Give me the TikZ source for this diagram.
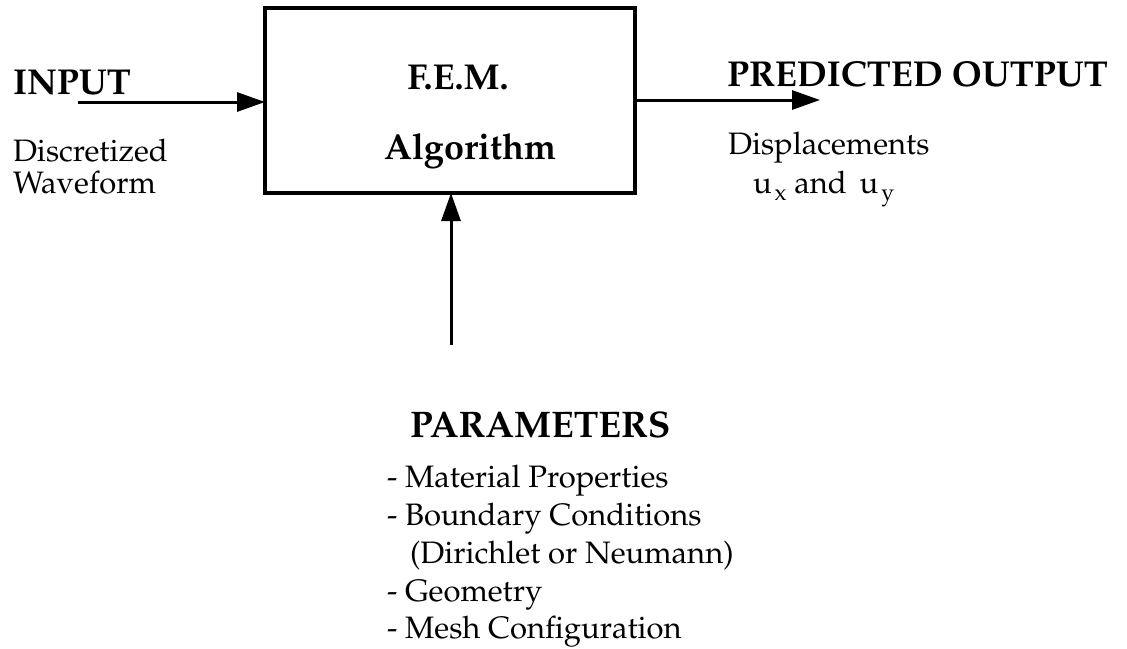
\documentclass[tikz,border=0pt]{standalone}
\usepackage[T1]{fontenc}
\usepackage{mathpazo}
\usetikzlibrary{arrows.meta}
% lowered subscript letter set a little apart from its base
\newcommand{\lowsub}[1]{\kern3pt\raisebox{-7pt}{\fontsize{23}{26}\selectfont #1}}
\begin{document}
\begin{tikzpicture}[x=1pt,y=-1pt,
  every node/.style={inner sep=0pt,outer sep=0pt},
  head/.style={font=\fontsize{36}{40}\selectfont\bfseries},
  big/.style={font=\fontsize{37}{42}\selectfont\bfseries},
  body/.style={font=\fontsize{31}{36}\selectfont},
  flow/.style={line width=3pt,-{Triangle[length=28pt,width=19pt]}},
  blockbox/.style={draw,line width=4pt,minimum width=370pt,minimum height=185pt}]
\useasboundingbox (0,0) rectangle (1127,648);

% processing block
\node[blockbox] (fem) at (450,100.5) {};
\node[head,anchor=base] (t1) at (458,89) {F.E.M.};
\node[head,anchor=base] (t2) at (470,159) {Algorithm};

% input side
\node[head,anchor=base west] (inp) at (13,94) {INPUT};
\node[body,anchor=base west] (inpa) at (13,161) {Discretized};
\node[body,anchor=base west] (inpb) at (13,193) {Waveform};
\coordinate (inStart) at (78,102);
\draw[flow] (inStart) -- (inStart -| fem.west);

% output side
\node[head,anchor=base west] (out) at (727,86) {PREDICTED OUTPUT};
\node[body,anchor=base west] (outa) at (728,154) {Displacements};
\node[body,anchor=base west] (outb) at (753,193) {u\lowsub{x} and\, u\lowsub{y}};
\coordinate (outEnd) at (820,100);
\draw[flow] (outEnd -| fem.east) -- (outEnd);

% parameters feeding the block from below
\coordinate (parStart) at (451,345);
\draw[flow] (parStart) -- (parStart |- fem.south);
\node[big,anchor=base west] (par) at (410,437) {PARAMETERS};
\node[body,anchor=base west] (p1) at (387,487) {- Material Properties};
\node[body,anchor=base west] (p2) at (387,525) {- Boundary Conditions};
\node[body,anchor=base west] (p3) at (410,563) {(Dirichlet or Neumann)};
\node[body,anchor=base west] (p4) at (387,601) {- Geometry};
\node[body,anchor=base west] (p5) at (387,638) {- Mesh Configuration};
\end{tikzpicture}
\end{document}
